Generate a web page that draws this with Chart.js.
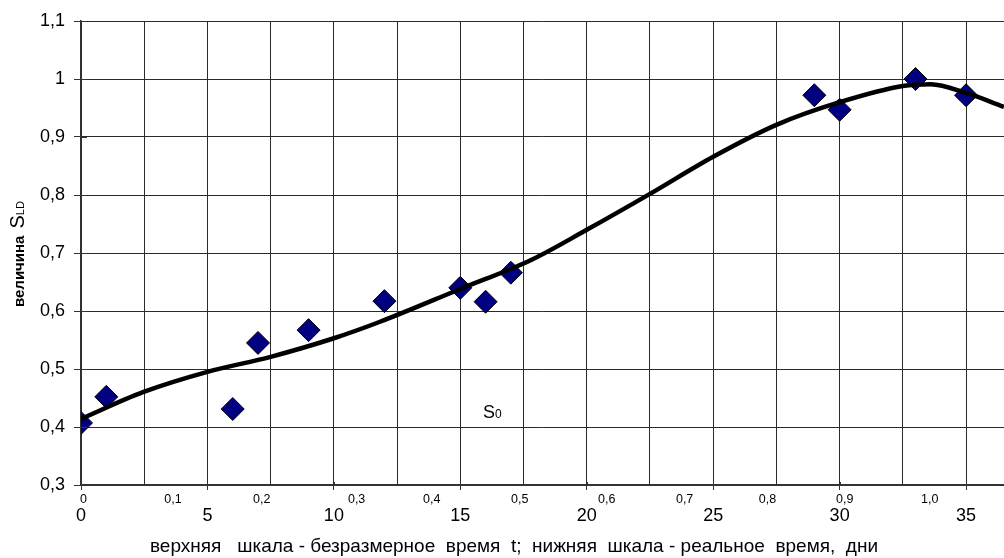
<!DOCTYPE html>
<html>
<head>
<meta charset="utf-8">
<script src="https://cdn.jsdelivr.net/npm/chart.js@4.4.1/dist/chart.umd.min.js"></script>
<style>
body{margin:0;background:#fff;}
</style>
</head>
<body>
<canvas id="chartSld" width="1004" height="558"></canvas>
<script>
// measured points: real time (days) and S_LD
var pointDays = [0, 1, 6, 7, 9, 12, 15, 16, 17, 29, 30, 33, 35];
var pointSld = [0.407, 0.452, 0.431, 0.545, 0.567, 0.617, 0.640, 0.616, 0.666, 0.972, 0.947, 1.0, 0.972];

// the smooth curve
var curveDays = [0, 2.45, 5, 7.5, 10, 11.8, 15, 17.8, 20, 22.5, 25, 27.5, 30, 32.5, 33.6, 35, 36.5];
var curveSld = [0.414, 0.460, 0.495, 0.521, 0.553, 0.581, 0.638, 0.688, 0.740, 0.802, 0.866, 0.921, 0.960, 0.988, 0.991, 0.976, 0.952];

// lower scale: days, grid every 2.5, labels every 5
var dayMax = 36.5;
var dayGridStep = 2.5;
var dayLabelStep = 5;

// upper scale (dimensionless time t), where each label sits on the day scale
var topScaleLabels = ['0', '0,1', '0,2', '0,3', '0,4', '0,5', '0,6', '0,7', '0,8', '0,9', '1,0'];
var topScaleDays = [0.1, 3.64, 7.15, 10.9, 13.87, 17.35, 20.79, 23.87, 27.15, 30.2, 33.56];

var xTitle = 'верхняя   шкала - безразмерное  время  t;  нижняя  шкала - реальное  время,  дни';
var yTitleWord = 'величина';
var yTitleSymbol = 'S';
var yTitleSub = 'LD';
var s0Label = ['S', '0'];
var s0At = [15.9, 0.4155];

var FONT = '"Liberation Sans", Arial, sans-serif';

function comma(v) {
  if (Math.abs(v - 1) < 1e-9) return '1';
  return v.toFixed(1).replace('.', ',');
}
function isStep(v, s) {
  return Math.abs(v / s - Math.round(v / s)) < 1e-6;
}

var extraText = {
  id: 'extraText',
  afterDraw: function(chart) {
    var ctx = chart.ctx;
    var xs = chart.scales.x, ys = chart.scales.y;
    ctx.save();
    ctx.fillStyle = '#000';
    ctx.textBaseline = 'alphabetic';
    ctx.textAlign = 'left';

    // rotated y title
    ctx.save();
    ctx.translate(24, 307);
    ctx.rotate(-Math.PI / 2);
    ctx.font = 'bold 15px ' + FONT;
    ctx.fillText(yTitleWord, 0, 0);
    var w = ctx.measureText(yTitleWord).width + 7;
    ctx.font = '20px ' + FONT;
    ctx.fillText(yTitleSymbol, w, 0);
    w += ctx.measureText(yTitleSymbol).width;
    ctx.font = '11px ' + FONT;
    ctx.fillText(yTitleSub, w, 0);
    ctx.restore();

    // S0 mark
    var px = xs.getPixelForValue(s0At[0]);
    var py = ys.getPixelForValue(s0At[1]);
    ctx.font = '18px ' + FONT;
    ctx.fillText(s0Label[0], px, py);
    var sw = ctx.measureText(s0Label[0]).width;
    ctx.font = '12px ' + FONT;
    ctx.fillText(s0Label[1], px + sw, py);

    // upper (dimensionless) scale labels
    ctx.textAlign = 'center';
    ctx.font = '12.5px ' + FONT;
    topScaleLabels.forEach(function(lbl, i) {
      ctx.fillText(lbl, xs.getPixelForValue(topScaleDays[i]), ys.bottom + 18);
    });

    // axis caption
    ctx.font = '19px ' + FONT;
    ctx.fillText(xTitle, 514, 552);

    // short tick marks running into the plot
    ctx.strokeStyle = '#333';
    ctx.lineWidth = 1;
    ys.ticks.forEach(function(t) {
      var y = Math.round(ys.getPixelForValue(t.value)) + 0.5;
      ctx.beginPath(); ctx.moveTo(xs.left, y); ctx.lineTo(xs.left + 6, y); ctx.stroke();
    });
    xs.ticks.forEach(function(t) {
      if (!isStep(t.value, dayLabelStep)) return;
      var x = Math.round(xs.getPixelForValue(t.value)) + 0.5;
      ctx.beginPath(); ctx.moveTo(x, ys.bottom); ctx.lineTo(x, ys.bottom - 3); ctx.stroke();
    });
    ctx.restore();
  }
};

var curvePoints = curveDays.map(function(d, i) { return {x: d, y: curveSld[i]}; });
var markPoints = pointDays.map(function(d, i) { return {x: d, y: pointSld[i]}; });

new Chart(document.getElementById('chartSld').getContext('2d'), {
  type: 'scatter',
  data: {
    datasets: [{
      data: curvePoints,
      showLine: true,
      borderColor: '#000',
      borderWidth: 4.5,
      pointRadius: 0,
      cubicInterpolationMode: 'monotone',
      order: 0
    }, {
      data: markPoints,
      pointStyle: 'rectRot',
      pointRadius: 11.5,
      pointHoverRadius: 11.5,
      backgroundColor: '#000080',
      borderColor: '#000',
      borderWidth: 1,
      order: 1
    }]
  },
  options: {
    responsive: false,
    devicePixelRatio: 1,
    animation: false,
    layout: {autoPadding: false, padding: {top: 21, right: 0, bottom: 0, left: 0}},
    plugins: {legend: {display: false}, tooltip: {enabled: false}},
    scales: {
      x: {
        type: 'linear',
        position: 'bottom',
        min: 0,
        max: dayMax,
        afterBuildTicks: function(scale) {
          var t = [];
          for (var v = 0; v <= dayMax; v += dayGridStep) t.push({value: v});
          scale.ticks = t;
        },
        afterFit: function(scale) { scale.height = 73; scale.paddingRight = 0; },
        grid: {
          color: '#2a2a2a',
          tickColor: function(c) { return c.tick && isStep(c.tick.value, dayLabelStep) ? '#333' : 'rgba(0,0,0,0)'; },
          lineWidth: 1,
          tickLength: 5
        },
        border: {display: true, color: '#333', width: 2},
        ticks: {
          autoSkip: false,
          maxRotation: 0,
          padding: 15,
          color: '#000',
          font: {family: FONT, size: 18},
          callback: function(v) { return isStep(v, dayLabelStep) ? String(Math.round(v)) : ''; }
        }
      },
      y: {
        type: 'linear',
        min: 0.3,
        max: 1.1,
        afterFit: function(scale) { scale.width = 81; },
        grid: {color: '#2a2a2a', tickColor: '#333', lineWidth: 1, tickLength: 7},
        border: {display: true, color: '#333', width: 1.5},
        ticks: {
          stepSize: 0.1,
          padding: 9,
          color: '#000',
          font: {family: FONT, size: 18},
          callback: function(v) { return comma(v); }
        }
      }
    }
  },
  plugins: [extraText]
});
</script>
</body>
</html>
